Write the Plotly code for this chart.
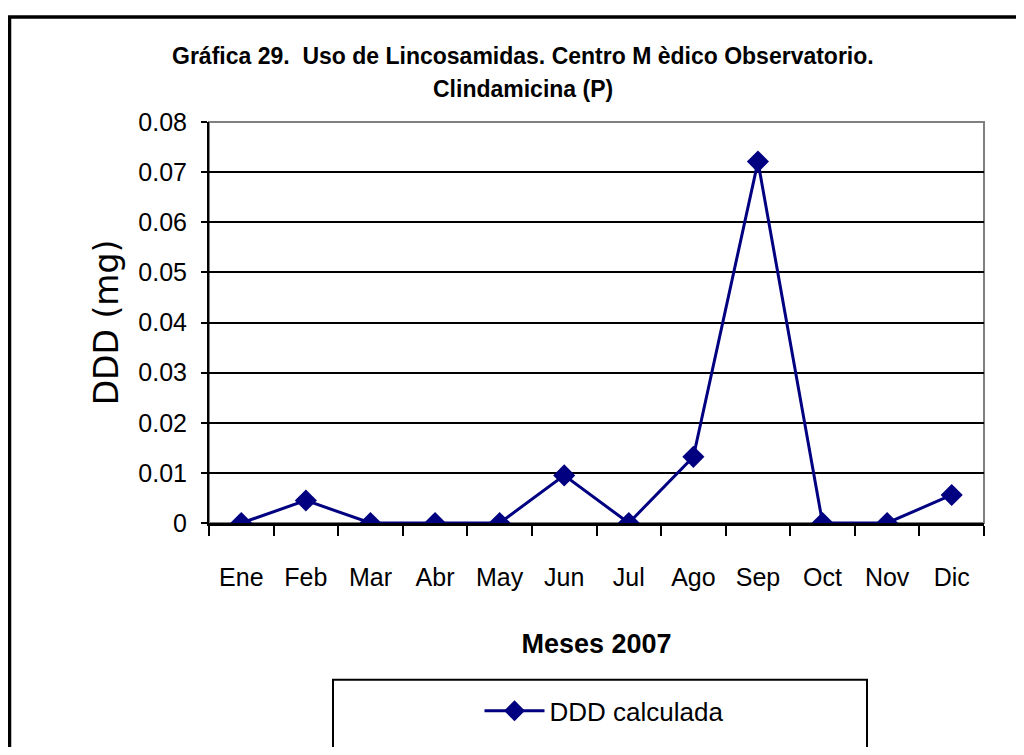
import plotly.graph_objects as go

months = ["Ene", "Feb", "Mar", "Abr", "May", "Jun", "Jul", "Ago", "Sep", "Oct", "Nov", "Dic"]
ddd = [0, 0.0045, 0, 0, 0, 0.0095, 0, 0.0132, 0.0721, 0, 0, 0.0056]
yticks = [0, 0.01, 0.02, 0.03, 0.04, 0.05, 0.06, 0.07, 0.08]
ytick_labels = ["0", "0.01", "0.02", "0.03", "0.04", "0.05", "0.06", "0.07", "0.08"]

SANS = "Liberation Sans, Arial"

# page coordinates (page body has an 8px margin on every side)
OFF = 8
FW, FH = 1008, 739
L, R, T, B = 209, 984, 122, 534
pw, ph = R - L, B - T

def px(x):
    return (x - L) / pw

def py(y):
    return (B - y) / ph

fig = go.Figure()
fig.add_trace(go.Scatter(
    x=months, y=ddd, mode="lines+markers", name="DDD calculada",
    line=dict(color="#000080", width=3),
    marker=dict(symbol="diamond", size=17, color="#000080"),
))

fig.update_layout(
    width=FW, height=FH,
    margin=dict(l=L - OFF, r=FW - (R - OFF), t=T - OFF, b=FH - (B - OFF)),
    paper_bgcolor="white", plot_bgcolor="white",
    showlegend=True,
    legend=dict(x=px(604), y=py(727), xanchor="center", yanchor="middle",
                font=dict(family=SANS, size=26, color="black"),
                itemwidth=60,
                bgcolor="rgba(0,0,0,0)", borderwidth=0),
    xaxis=dict(
        type="category", range=[-0.5, 11.5],
        tickson="boundaries", ticks="outside", ticklen=10, tickwidth=2, tickcolor="black",
        showline=True, linecolor="black", linewidth=3,
        showgrid=False, zeroline=False,
        tickfont=dict(family=SANS, size=25, color="black"),
        ticklabelstandoff=30,
        title=dict(text="<b>Meses 2007</b>", font=dict(family=SANS, size=27, color="black"),
                   standoff=45),
    ),
    yaxis=dict(
        range=[0, 0.08], tickvals=yticks, ticktext=ytick_labels,
        ticks="outside", ticklen=6, tickwidth=2, tickcolor="black",
        showline=True, linecolor="black", linewidth=2,
        showgrid=True, gridcolor="black", gridwidth=2, zeroline=False,
        tickfont=dict(family=SANS, size=25, color="black"),
        ticklabelstandoff=9,
        title=dict(text="DDD (mg)", font=dict(family="DejaVu Sans", size=33, color="black"),
                   standoff=10),
    ),
    annotations=[
        dict(text="<b>Gráfica 29.  Uso de Lincosamidas. Centro M èdico Observatorio.</b>",
             x=px(523), y=py(54), xref="paper", yref="paper", showarrow=False,
             xanchor="center", yanchor="middle",
             font=dict(family=SANS, size=23, color="black")),
        dict(text="<b>Clindamicina (P)</b>",
             x=px(523), y=py(88), xref="paper", yref="paper", showarrow=False,
             xanchor="center", yanchor="middle",
             font=dict(family=SANS, size=23, color="black")),
    ],
    shapes=[
        # plot area border (gray top/right)
        dict(type="rect", xref="paper", yref="paper", x0=0, y0=0, x1=1, y1=1,
             line=dict(color="#808080", width=2), layer="below"),
        # outer chart frame
        dict(type="rect", xref="paper", yref="paper", x0=px(9.5), y0=py(790), x1=px(1060), y1=py(14),
             line=dict(color="black", width=3.5)),
        # legend box
        dict(type="rect", xref="paper", yref="paper", x0=px(333), y0=py(790), x1=px(867), y1=py(695),
             line=dict(color="black", width=2)),
    ],
)

fig.write_html("out.html")
